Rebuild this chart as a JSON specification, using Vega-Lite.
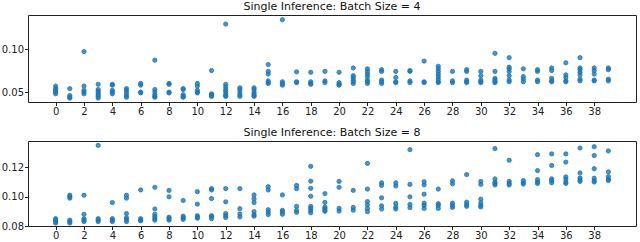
{
  "$schema": "https://vega.github.io/schema/vega-lite/v6.json",
  "padding": {"left": 0, "top": 0, "right": 5, "bottom": 0},
  "spacing": 9,
  "config": {
    "font": "DejaVu Sans",
    "view": {"stroke": "#222", "strokeWidth": 1},
    "axis": {"domain": false, "grid": false, "tickColor": "#222", "tickSize": 3.5, "labelColor": "#222", "labelFontSize": 10, "labelPadding": 1, "title": null},
    "title": {"fontSize": 11, "fontWeight": "normal", "color": "#111", "offset": 3}
  },
  "datasets": {
    "b4": [
      {"x":0,"y":0.057},{"x":0,"y":0.054},{"x":0,"y":0.052},{"x":0,"y":0.050},{"x":0,"y":0.048},
      {"x":1,"y":0.054},{"x":1,"y":0.046},{"x":1,"y":0.044},{"x":1,"y":0.043},
      {"x":2,"y":0.097},{"x":2,"y":0.057},{"x":2,"y":0.052},{"x":2,"y":0.050},{"x":2,"y":0.048},
      {"x":3,"y":0.059},{"x":3,"y":0.053},{"x":3,"y":0.051},{"x":3,"y":0.049},{"x":3,"y":0.047},{"x":3,"y":0.045},{"x":3,"y":0.043},
      {"x":4,"y":0.059},{"x":4,"y":0.058},{"x":4,"y":0.052},{"x":4,"y":0.050},{"x":4,"y":0.048},
      {"x":5,"y":0.054},{"x":5,"y":0.052},{"x":5,"y":0.049},{"x":5,"y":0.046},{"x":5,"y":0.044},
      {"x":6,"y":0.060},{"x":6,"y":0.058},{"x":6,"y":0.050},{"x":6,"y":0.049},
      {"x":7,"y":0.087},{"x":7,"y":0.053},{"x":7,"y":0.050},{"x":7,"y":0.047},{"x":7,"y":0.045},{"x":7,"y":0.044},
      {"x":8,"y":0.060},{"x":8,"y":0.059},{"x":8,"y":0.050},{"x":8,"y":0.049},
      {"x":9,"y":0.054},{"x":9,"y":0.053},{"x":9,"y":0.047},{"x":9,"y":0.045},{"x":9,"y":0.044},
      {"x":10,"y":0.060},{"x":10,"y":0.057},{"x":10,"y":0.052},{"x":10,"y":0.050},{"x":10,"y":0.049},
      {"x":11,"y":0.075},{"x":11,"y":0.048},{"x":11,"y":0.047},{"x":11,"y":0.046},{"x":11,"y":0.045},
      {"x":12,"y":0.129},{"x":12,"y":0.059},{"x":12,"y":0.056},{"x":12,"y":0.053},{"x":12,"y":0.051},{"x":12,"y":0.048},{"x":12,"y":0.046},{"x":12,"y":0.045},
      {"x":13,"y":0.055},{"x":13,"y":0.053},{"x":13,"y":0.050},{"x":13,"y":0.047},{"x":13,"y":0.045},
      {"x":14,"y":0.055},{"x":14,"y":0.053},{"x":14,"y":0.050},{"x":14,"y":0.048},{"x":14,"y":0.046},{"x":14,"y":0.045},
      {"x":15,"y":0.082},{"x":15,"y":0.074},{"x":15,"y":0.071},{"x":15,"y":0.063},{"x":15,"y":0.061},{"x":15,"y":0.060},
      {"x":16,"y":0.134},{"x":16,"y":0.062},{"x":16,"y":0.060},{"x":16,"y":0.058},
      {"x":17,"y":0.0735},{"x":17,"y":0.062},{"x":17,"y":0.061},
      {"x":18,"y":0.073},{"x":18,"y":0.062},{"x":18,"y":0.060},{"x":18,"y":0.059},
      {"x":19,"y":0.074},{"x":19,"y":0.063},{"x":19,"y":0.061},
      {"x":20,"y":0.073},{"x":20,"y":0.061},{"x":20,"y":0.059},{"x":20,"y":0.058},
      {"x":21,"y":0.078},{"x":21,"y":0.069},{"x":21,"y":0.067},{"x":21,"y":0.064},{"x":21,"y":0.062},{"x":21,"y":0.060},
      {"x":22,"y":0.077},{"x":22,"y":0.074},{"x":22,"y":0.071},{"x":22,"y":0.068},{"x":22,"y":0.064},{"x":22,"y":0.062},{"x":22,"y":0.060},
      {"x":23,"y":0.076},{"x":23,"y":0.074},{"x":23,"y":0.064},{"x":23,"y":0.062},{"x":23,"y":0.060},
      {"x":24,"y":0.074},{"x":24,"y":0.067},{"x":24,"y":0.062},{"x":24,"y":0.061},
      {"x":25,"y":0.075},{"x":25,"y":0.074},{"x":25,"y":0.063},{"x":25,"y":0.061},
      {"x":26,"y":0.086},{"x":26,"y":0.062},{"x":26,"y":0.061},
      {"x":27,"y":0.080},{"x":27,"y":0.077},{"x":27,"y":0.074},{"x":27,"y":0.071},{"x":27,"y":0.068},{"x":27,"y":0.065},{"x":27,"y":0.062},{"x":27,"y":0.061},
      {"x":28,"y":0.074},{"x":28,"y":0.063},{"x":28,"y":0.061},
      {"x":29,"y":0.076},{"x":29,"y":0.074},{"x":29,"y":0.064},{"x":29,"y":0.062},{"x":29,"y":0.061},
      {"x":30,"y":0.074},{"x":30,"y":0.069},{"x":30,"y":0.064},{"x":30,"y":0.062},{"x":30,"y":0.061},
      {"x":31,"y":0.095},{"x":31,"y":0.074},{"x":31,"y":0.066},{"x":31,"y":0.064},{"x":31,"y":0.062},{"x":31,"y":0.061},
      {"x":32,"y":0.090},{"x":32,"y":0.079},{"x":32,"y":0.077},{"x":32,"y":0.074},{"x":32,"y":0.069},{"x":32,"y":0.064},{"x":32,"y":0.062},
      {"x":33,"y":0.077},{"x":33,"y":0.068},{"x":33,"y":0.065},{"x":33,"y":0.062},
      {"x":34,"y":0.076},{"x":34,"y":0.074},{"x":34,"y":0.064},{"x":34,"y":0.062},
      {"x":35,"y":0.078},{"x":35,"y":0.075},{"x":35,"y":0.066},{"x":35,"y":0.063},{"x":35,"y":0.062},
      {"x":36,"y":0.084},{"x":36,"y":0.070},{"x":36,"y":0.067},{"x":36,"y":0.063},{"x":36,"y":0.062},
      {"x":37,"y":0.090},{"x":37,"y":0.078},{"x":37,"y":0.076},{"x":37,"y":0.073},{"x":37,"y":0.070},{"x":37,"y":0.065},{"x":37,"y":0.063},
      {"x":38,"y":0.078},{"x":38,"y":0.075},{"x":38,"y":0.071},{"x":38,"y":0.064},{"x":38,"y":0.063},
      {"x":39,"y":0.078},{"x":39,"y":0.076},{"x":39,"y":0.065},{"x":39,"y":0.063}
    ],
    "b8": [
      {"x":0,"y":0.085},{"x":0,"y":0.084},{"x":0,"y":0.083},{"x":0,"y":0.082},
      {"x":1,"y":0.101},{"x":1,"y":0.100},{"x":1,"y":0.099},{"x":1,"y":0.084},{"x":1,"y":0.083},{"x":1,"y":0.082},
      {"x":2,"y":0.101},{"x":2,"y":0.088},{"x":2,"y":0.085},{"x":2,"y":0.084},{"x":2,"y":0.083},
      {"x":3,"y":0.135},{"x":3,"y":0.085},{"x":3,"y":0.084},{"x":3,"y":0.083},
      {"x":4,"y":0.096},{"x":4,"y":0.085},{"x":4,"y":0.084},{"x":4,"y":0.083},
      {"x":5,"y":0.101},{"x":5,"y":0.099},{"x":5,"y":0.0885},{"x":5,"y":0.0856},{"x":5,"y":0.0845},{"x":5,"y":0.083},
      {"x":6,"y":0.1046},{"x":6,"y":0.085},{"x":6,"y":0.084},{"x":6,"y":0.0835},
      {"x":7,"y":0.1064},{"x":7,"y":0.0916},{"x":7,"y":0.088},{"x":7,"y":0.0865},{"x":7,"y":0.085},{"x":7,"y":0.084},
      {"x":8,"y":0.1043},{"x":8,"y":0.0999},{"x":8,"y":0.086},{"x":8,"y":0.085},{"x":8,"y":0.084},
      {"x":9,"y":0.0974},{"x":9,"y":0.0867},{"x":9,"y":0.0856},{"x":9,"y":0.0845},
      {"x":10,"y":0.1034},{"x":10,"y":0.0949},{"x":10,"y":0.087},{"x":10,"y":0.086},{"x":10,"y":0.0853},
      {"x":11,"y":0.1055},{"x":11,"y":0.1046},{"x":11,"y":0.0987},{"x":11,"y":0.087},{"x":11,"y":0.0865},{"x":11,"y":0.085},
      {"x":12,"y":0.1055},{"x":12,"y":0.0965},{"x":12,"y":0.0885},{"x":12,"y":0.087},{"x":12,"y":0.0858},
      {"x":13,"y":0.1055},{"x":13,"y":0.0918},{"x":13,"y":0.0882},{"x":13,"y":0.0862},
      {"x":14,"y":0.1012},{"x":14,"y":0.0985},{"x":14,"y":0.096},{"x":14,"y":0.0898},{"x":14,"y":0.0877},{"x":14,"y":0.0867},
      {"x":15,"y":0.1068},{"x":15,"y":0.1046},{"x":15,"y":0.0911},{"x":15,"y":0.0895},{"x":15,"y":0.0878},
      {"x":16,"y":0.1012},{"x":16,"y":0.0907},{"x":16,"y":0.0895},{"x":16,"y":0.088},
      {"x":17,"y":0.1077},{"x":17,"y":0.1055},{"x":17,"y":0.0934},{"x":17,"y":0.0907},{"x":17,"y":0.0893},
      {"x":18,"y":0.1207},{"x":18,"y":0.1106},{"x":18,"y":0.1057},{"x":18,"y":0.1003},{"x":18,"y":0.0934},{"x":18,"y":0.092},{"x":18,"y":0.0905},{"x":18,"y":0.089},
      {"x":19,"y":0.1021},{"x":19,"y":0.0961},{"x":19,"y":0.0929},{"x":19,"y":0.092},{"x":19,"y":0.0909},{"x":19,"y":0.090},
      {"x":20,"y":0.1104},{"x":20,"y":0.1064},{"x":20,"y":0.092},{"x":20,"y":0.0902},
      {"x":21,"y":0.1043},{"x":21,"y":0.0927},{"x":21,"y":0.0908},
      {"x":22,"y":0.1227},{"x":22,"y":0.1052},{"x":22,"y":0.0967},{"x":22,"y":0.0945},{"x":22,"y":0.092},{"x":22,"y":0.0898},
      {"x":23,"y":0.1095},{"x":23,"y":0.1077},{"x":23,"y":0.0992},{"x":23,"y":0.0938},{"x":23,"y":0.0916},
      {"x":24,"y":0.1095},{"x":24,"y":0.1073},{"x":24,"y":0.0954},{"x":24,"y":0.093},{"x":24,"y":0.0916},
      {"x":25,"y":0.1321},{"x":25,"y":0.1084},{"x":25,"y":0.0999},{"x":25,"y":0.0947},{"x":25,"y":0.0925},
      {"x":26,"y":0.1102},{"x":26,"y":0.1081},{"x":26,"y":0.1017},{"x":26,"y":0.0956},{"x":26,"y":0.094},{"x":26,"y":0.092},
      {"x":27,"y":0.1052},{"x":27,"y":0.0952},{"x":27,"y":0.094},{"x":27,"y":0.092},
      {"x":28,"y":0.1108},{"x":28,"y":0.1088},{"x":28,"y":0.0956},{"x":28,"y":0.094},{"x":28,"y":0.0927},
      {"x":29,"y":0.1151},{"x":29,"y":0.0963},{"x":29,"y":0.0946},{"x":29,"y":0.0934},
      {"x":30,"y":0.1104},{"x":30,"y":0.1084},{"x":30,"y":0.0983},{"x":30,"y":0.0958},{"x":30,"y":0.094},{"x":30,"y":0.093},
      {"x":31,"y":0.1328},{"x":31,"y":0.1122},{"x":31,"y":0.110},{"x":31,"y":0.109},{"x":31,"y":0.108},
      {"x":32,"y":0.1249},{"x":32,"y":0.1104},{"x":32,"y":0.109},{"x":32,"y":0.108},
      {"x":33,"y":0.111},{"x":33,"y":0.1095},{"x":33,"y":0.1086},
      {"x":34,"y":0.1287},{"x":34,"y":0.1178},{"x":34,"y":0.1117},{"x":34,"y":0.110},{"x":34,"y":0.109},
      {"x":35,"y":0.1292},{"x":35,"y":0.1213},{"x":35,"y":0.1122},{"x":35,"y":0.111},{"x":35,"y":0.1095},
      {"x":36,"y":0.1292},{"x":36,"y":0.1236},{"x":36,"y":0.1135},{"x":36,"y":0.112},{"x":36,"y":0.110},{"x":36,"y":0.109},
      {"x":37,"y":0.1332},{"x":37,"y":0.1162},{"x":37,"y":0.1128},{"x":37,"y":0.1115},{"x":37,"y":0.1104},
      {"x":38,"y":0.1341},{"x":38,"y":0.1281},{"x":38,"y":0.1191},{"x":38,"y":0.1126},{"x":38,"y":0.111},{"x":38,"y":0.110},
      {"x":39,"y":0.1312},{"x":39,"y":0.1169},{"x":39,"y":0.1137},{"x":39,"y":0.112},{"x":39,"y":0.111}
    ]
  },
  "vconcat": [
    {
      "title": "Single Inference: Batch Size = 4",
      "width": 608,
      "height": 87,
      "data": {"name": "b4"},
      "mark": {"type": "circle", "size": 18, "color": "#1f77b4", "fillOpacity": 0.8, "stroke": "#1f77b4", "strokeWidth": 1, "strokeOpacity": 0.8},
      "encoding": {
        "x": {"field": "x", "type": "quantitative", "scale": {"domain": [-1.95, 40.95], "nice": false, "zero": false}, "axis": {"values": [0,2,4,6,8,10,12,14,16,18,20,22,24,26,28,30,32,34,36,38], "labelFlush": false}},
        "y": {"field": "y", "type": "quantitative", "scale": {"domain": [0.0385, 0.1395], "nice": false, "zero": false}, "axis": {"values": [0.05, 0.10], "format": ".2f"}}
      }
    },
    {
      "title": "Single Inference: Batch Size = 8",
      "width": 608,
      "height": 85,
      "data": {"name": "b8"},
      "mark": {"type": "circle", "size": 18, "color": "#1f77b4", "fillOpacity": 0.8, "stroke": "#1f77b4", "strokeWidth": 1, "strokeOpacity": 0.8},
      "encoding": {
        "x": {"field": "x", "type": "quantitative", "scale": {"domain": [-1.95, 40.95], "nice": false, "zero": false}, "axis": {"values": [0,2,4,6,8,10,12,14,16,18,20,22,24,26,28,30,32,34,36,38], "labelFlush": false}},
        "y": {"field": "y", "type": "quantitative", "scale": {"domain": [0.08, 0.138], "nice": false, "zero": false}, "axis": {"values": [0.08, 0.10, 0.12], "format": ".2f", "labelFlush": false}}
      }
    }
  ]
}
